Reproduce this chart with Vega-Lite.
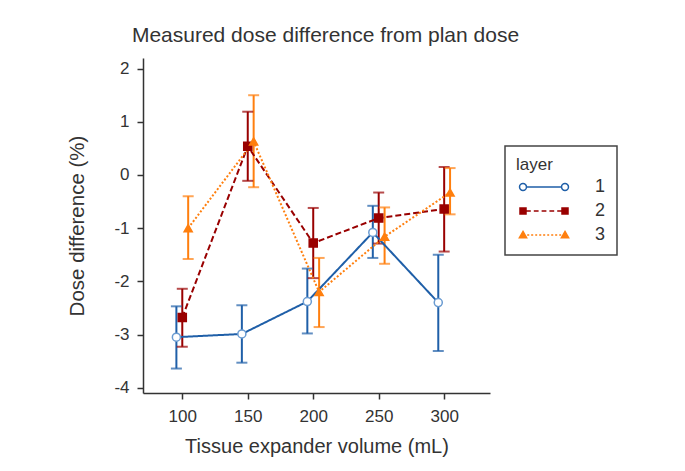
{
  "$schema": "https://vega.github.io/schema/vega-lite/v6.json",
  "autosize": "none",
  "width": 347,
  "height": 335,
  "padding": {"left": 143, "top": 58, "right": 195, "bottom": 78},
  "background": "white",
  "config": {
    "font": "Liberation Sans",
    "view": {"stroke": null},
    "axis": {"grid": false, "domainColor": "#333", "domainWidth": 1.5, "tickColor": "#333", "tickWidth": 1.5, "tickSize": 6, "labelColor": "#333", "titleColor": "#333", "labelFontSize": 17, "titleFontSize": 20, "titleFontWeight": "normal"},
    "legend": {"orient": "none", "legendX": 362, "legendY": 88, "padding": 11, "strokeColor": "#444", "strokeWidth": 1.5, "fillColor": "white", "titleFontSize": 17, "titleFontWeight": "normal", "titleColor": "#333", "titlePadding": 4, "labelFontSize": 18, "labelColor": "#333", "symbolSize": 256, "symbolStrokeWidth": 1.5, "symbolOffset": 19, "labelOffset": 42, "rowPadding": 6}
  },
  "title": {"text": "Measured dose difference from plan dose", "fontSize": 21, "fontWeight": "normal", "color": "#333", "anchor": "middle", "offset": 12, "dx": 9},
  "data": {"values": [
    {"volume": 100, "layer": "1", "diff": -3.05, "lo": -3.64, "hi": -2.47},
    {"volume": 150, "layer": "1", "diff": -2.99, "lo": -3.53, "hi": -2.45},
    {"volume": 200, "layer": "1", "diff": -2.38, "lo": -2.98, "hi": -1.76},
    {"volume": 250, "layer": "1", "diff": -1.08, "lo": -1.56, "hi": -0.58},
    {"volume": 300, "layer": "1", "diff": -2.40, "lo": -3.31, "hi": -1.50},
    {"volume": 100, "layer": "2", "diff": -2.68, "lo": -3.23, "hi": -2.14},
    {"volume": 150, "layer": "2", "diff": 0.54, "lo": -0.11, "hi": 1.19},
    {"volume": 200, "layer": "2", "diff": -1.28, "lo": -1.94, "hi": -0.62},
    {"volume": 250, "layer": "2", "diff": -0.81, "lo": -1.29, "hi": -0.33},
    {"volume": 300, "layer": "2", "diff": -0.64, "lo": -1.44, "hi": 0.15},
    {"volume": 100, "layer": "3", "diff": -1.0, "lo": -1.58, "hi": -0.40},
    {"volume": 150, "layer": "3", "diff": 0.63, "lo": -0.23, "hi": 1.50},
    {"volume": 200, "layer": "3", "diff": -2.20, "lo": -2.86, "hi": -1.56},
    {"volume": 250, "layer": "3", "diff": -1.16, "lo": -1.67, "hi": -0.61},
    {"volume": 300, "layer": "3", "diff": -0.33, "lo": -0.74, "hi": 0.13}
  ]},
  "transform": [{"calculate": "datum.volume + (toNumber(datum.layer) - 2) * 4.5", "as": "xd"}],
  "encoding": {
    "x": {"field": "xd", "type": "quantitative", "scale": {"domain": [70, 335], "nice": false, "zero": false}, "axis": {"values": [100, 150, 200, 250, 300], "title": "Tissue expander volume (mL)", "titlePadding": 12, "labelPadding": 9}},
    "color": {"field": "layer", "type": "nominal", "scale": {"domain": ["1", "2", "3"], "range": ["#1f5fa8", "#990000", "#ff7f0e"]}, "legend": null}
  },
  "resolve": {"scale": {"shape": "independent", "fill": "independent", "stroke": "independent"}},
  "layer": [
    {
      "mark": {"type": "rule", "strokeWidth": 2},
      "encoding": {
        "y": {"field": "lo", "type": "quantitative"},
        "y2": {"field": "hi"}
      }
    },
    {
      "mark": {"type": "tick", "orient": "horizontal", "size": 11, "thickness": 2},
      "encoding": {"y": {"field": "lo", "type": "quantitative"}}
    },
    {
      "mark": {"type": "tick", "orient": "horizontal", "size": 11, "thickness": 2},
      "encoding": {"y": {"field": "hi", "type": "quantitative"}}
    },
    {
      "mark": {"type": "line", "strokeWidth": 2},
      "encoding": {
        "y": {"field": "diff", "type": "quantitative"},
        "strokeDash": {"field": "layer", "type": "nominal", "scale": {"domain": ["1", "2", "3"], "range": [[1, 0], [6, 3], [2, 2]]}, "legend": null}
      }
    },
    {
      "mark": {"type": "point", "filled": false, "size": 65, "strokeWidth": 1.5, "opacity": 1},
      "encoding": {
        "y": {"field": "diff", "type": "quantitative", "scale": {"domain": [-4.1, 2.2], "nice": false, "zero": false}, "axis": {"values": [-4, -3.5, -3, -2.5, -2, -1.5, -1, -0.5, 0, 0.5, 1, 1.5, 2], "labelExpr": "datum.value % 1 == 0 ? toString(datum.value) : ''", "tickSize": {"condition": {"test": "datum.value % 1 != 0", "value": 3}, "value": 6}, "title": "Dose difference (%)", "titleFontSize": 20.5, "titlePadding": 26, "labelPadding": 8}},
        "shape": {"field": "layer", "type": "nominal", "scale": {"domain": ["1", "2", "3"], "range": ["circle", "square", "triangle-up"]}, "legend": null},
        "fill": {"field": "layer", "type": "nominal", "scale": {"domain": ["1", "2", "3"], "range": ["white", "#990000", "#ff7f0e"]}, "legend": null},
        "stroke": {"field": "layer", "type": "nominal", "scale": {"domain": ["1", "2", "3"], "range": ["#6a9bd1", "#990000", "#ff7f0e"]}, "legend": null}
      }
    },
    {
      "transform": [{"filter": "datum.diff > 99"}],
      "mark": {"type": "point", "filled": false, "size": 256, "strokeWidth": 1.5, "opacity": 1},
      "encoding": {
        "y": {"field": "diff", "type": "quantitative"},
        "shape": {"field": "layer", "type": "nominal", "title": "layer", "scale": {"domain": ["1", "2", "3"], "range": [
          "M-3.06,0A0.435,0.435 0 1,0 -2.19,0A0.435,0.435 0 1,0 -3.06,0Z M-2.19,0L2.19,0 M2.19,0A0.435,0.435 0 1,0 3.06,0A0.435,0.435 0 1,0 2.19,0Z",
          "M-3,-0.375L-2.25,-0.375L-2.25,0.375L-3,0.375Z M2.25,-0.375L3,-0.375L3,0.375L2.25,0.375Z M-2.25,0L-1.65,0M-1.275,0L-0.675,0M-0.3,0L0.3,0M0.675,0L1.275,0M1.65,0L2.25,0",
          "M-2.625,-0.45L-2.175,0.33L-3.075,0.33Z M2.625,-0.45L3.075,0.33L2.175,0.33Z M-2.1,0L-1.845,0M-1.605,0L-1.35,0M-1.095,0L-0.855,0M-0.6,0L-0.345,0M-0.105,0L0.15,0M0.405,0L0.645,0M0.9,0L1.155,0M1.395,0L1.65,0M1.905,0L2.145,0"
        ]}},
        "fill": {"field": "layer", "type": "nominal", "title": "layer", "scale": {"domain": ["1", "2", "3"], "range": ["white", "#990000", "#ff7f0e"]}},
        "stroke": {"field": "layer", "type": "nominal", "title": "layer", "scale": {"domain": ["1", "2", "3"], "range": ["#1f5fa8", "#990000", "#ff7f0e"]}}
      }
    }
  ]
}
